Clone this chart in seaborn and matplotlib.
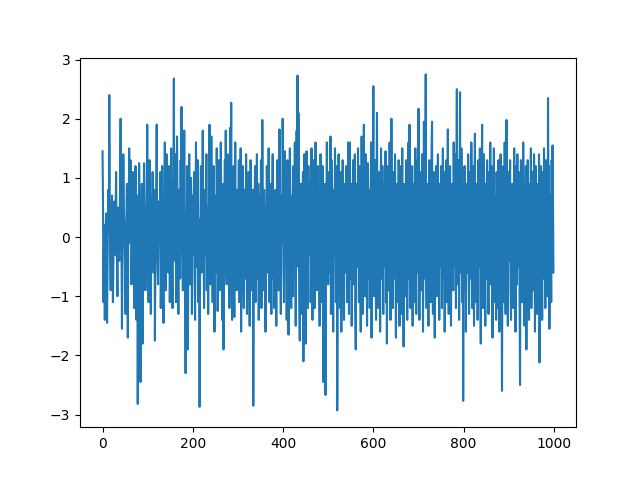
import numpy as np
import matplotlib
matplotlib.use("Agg")
import matplotlib.pyplot as plt
import seaborn as sns

# values, 20 samples per row (index 0..999)
values = [
    1.45, 0.6, -1.1, -0.3, 0.2, -1.4, -0.5, 0.1, 0.4, -0.2, -1.45, -0.6, 0.3, 0.8, 0.1, 2.4, 0.5, -0.3, -0.9, 0.2,
    0.3, 0.7, -0.1, -1.1, -0.4, 0.2, 0.6, 0.0, -0.3, 0.4, 1.1, 0.1, -0.5, -1.0, 0.1, 0.5, -0.2, -0.4, 0.2, 0.9,
    2.0, 0.3, -0.2, -1.55, -0.5, 0.1, 1.4, 0.6, -0.1, 0.2, -0.7, -1.3, 0.2, 0.4, 0.9, -0.3, -1.7, 0.0, 0.4, 1.5,
    0.2, -0.1, 1.3, 0.4, -0.8, -0.3, 0.1, 1.1, 0.6, -0.2, -1.2, 0.0, 0.3, 1.2, -0.5, -1.4, 0.2, 0.7, -2.82, -0.4,
    0.1, 1.25, 0.5, -0.2, -2.45, -0.7, 0.3, 0.9, 0.1, -1.8, -0.4, 0.2, 1.25, 0.6, -0.1, -0.9, -0.3, 0.1, 0.6, 1.9,
    0.4, -0.2, -1.1, 0.0, 1.3, 0.3, -0.6, -1.3, -0.1, 0.7, 0.2, 1.1, -0.3, -0.6, 0.0, 0.8, -1.75, -0.5, 0.1, 0.9,
    1.9, 0.2, -0.5, -0.8, 0.1, 0.6, 0.3, -0.1, 1.1, -1.2, -0.4, 0.5, 1.2, 0.1, -0.7, -1.45, 0.0, 0.6, 1.6, -0.2,
    -0.9, -0.3, 1.4, 0.5, -0.2, 0.1, -0.6, 1.2, 0.2, -1.1, -0.3, 0.7, 1.5, 0.2, -0.5, -1.2, 0.3, 0.8, 2.68, -0.1,
    -0.4, 1.4, 0.3, -1.1, 0.1, 1.7, 0.6, -0.4, -1.3, 0.3, 0.8, -0.1, -0.7, 1.3, 0.0, 2.2, 0.5, -0.3, -0.9, 0.4,
    0.1, 1.8, -0.2, -0.6, -2.3, 0.4, -0.4, 1.2, 0.3, -1.9, -0.5, 0.2, 1.4, 0.1, -0.8, -0.1, 1.0, 0.5, -1.3, 0.7,
    0.4, -0.3, 0.3, 1.1, -0.7, -1.4, 0.1, 1.6, 0.2, -0.5, 0.6, 1.3, -1.1, -0.2, 0.3, -2.87, -0.4, 0.5, 1.2, -0.6,
    -0.1, 0.6, 1.8, 0.2, -0.4, -1.2, 0.0, 0.8, 0.3, -0.3, 1.4, -0.9, -0.2, 0.5, -1.3, 0.1, 0.7, 1.9, -0.4, -0.8,
    0.1, 1.7, 0.3, -0.5, -1.1, 0.1, 1.2, -0.2, -1.6, 0.4, 0.7, 0.0, -0.6, 1.5, 0.3, -1.25, -0.1, 0.8, 1.3, -0.9,
    -0.3, 0.1, 1.6, 0.6, -0.4, -1.4, 0.3, 0.9, -1.9, -0.1, 0.5, 1.3, 0.1, 1.8, -0.5, -0.8, 0.4, 1.4, -0.2, -0.7,
    0.4, -1.2, 0.1, 1.85, 0.2, 2.27, -0.3, -1.4, 0.7, 0.2, 1.2, -0.6, -1.35, 0.4, 1.6, -0.1, 0.5, -0.9, 0.0, 0.8,
    -0.5, 0.3, 1.3, -1.1, -0.2, 0.7, 1.5, -1.6, -0.1, 0.6, 0.1, 1.2, -0.5, -1.2, 0.4, 0.8, -0.1, -0.7, 1.4, 0.4,
    -1.3, -0.3, 0.6, 1.1, 0.1, -0.6, -1.5, 0.3, 1.3, 0.5, -0.2, -0.9, 0.2, 0.8, -2.85, -0.5, 0.4, 0.7, 1.2, -1.1,
    -0.4, 0.3, 1.4, 0.1, -0.7, 0.9, -1.4, -0.1, 0.5, 0.7, -0.5, 1.3, -1.2, 0.2, 1.98, 0.4, -0.5, -0.9, 0.8, -0.2,
    0.5, -1.6, -0.2, 0.1, 1.2, 0.4, -0.6, -0.1, 1.5, 0.2, -1.1, 0.6, 0.9, -0.4, -1.3, 0.0, 0.6, 1.4, -0.7, -0.3,
    0.4, -1.2, 0.2, 0.8, -0.5, -1.5, 0.3, 1.3, 0.6, -0.2, -0.9, 0.1, 1.82, 0.8, -0.5, -1.3, 0.4, 0.7, -0.1, 2.0,
    1.2, -0.6, -1.1, 0.3, 1.45, 1.0, -0.4, 0.1, -1.4, -0.1, 1.3, 0.5, -1.65, -0.7, 0.1, 1.5, 0.8, -0.3, -1.2, 0.4,
    0.7, -0.2, -1.0, 1.2, 0.4, 0.0, 1.6, -0.5, -1.5, 0.2, 1.8, 0.6, 2.73, -0.5, 2.1, -0.2, -1.1, -1.75, 0.3, 0.9,
    0.7, -0.4, -1.3, 0.5, 1.1, -2.1, -0.1, 1.4, 0.6, -0.7, -1.8, 0.2, 1.45, 0.1, -0.5, -1.2, 1.2, 0.4, -0.3, 0.5,
    0.9, -1.1, -0.5, 1.5, 0.1, -1.4, 0.3, 1.3, 0.1, -0.6, -1.2, 0.7, 1.6, 0.4, -0.2, -0.9, 0.2, 1.2, -0.4, 0.8,
    -0.7, -1.5, 0.4, 1.4, 0.6, -0.1, -1.1, 0.2, 1.2, -2.45, -0.3, 0.5, 0.9, -1.3, -2.67, -0.5, 0.7, 1.6, 0.3, -0.1,
    -0.8, 0.1, 1.1, -0.6, 0.4, 1.7, -1.3, 0.0, 1.3, 0.4, -0.5, -1.6, 0.2, 0.8, -0.3, 1.5, 0.5, -1.1, -0.4, 1.2,
    -2.93, -0.7, 0.5, 1.4, 0.6, -0.2, -1.2, 0.1, 1.1, -1.6, -0.5, 0.3, 1.3, 0.7, -0.1, -1.4, 0.4, 0.9, 0.1, -0.6,
    1.2, 0.3, -1.1, -0.4, 1.6, 0.5, -1.3, 0.0, 1.6, -0.7, 0.2, 0.9, -1.5, -0.5, 0.6, 1.3, -0.8, -0.1, 0.4, 1.4,
    -1.2, -1.9, 0.5, 0.9, 0.1, -0.5, 1.5, 0.3, -1.1, 1.2, 0.7, -0.3, -1.6, 0.1, 1.7, 0.4, -0.6, -1.3, 0.9, 1.9,
    0.2, -0.4, -1.0, 1.4, 0.6, -0.1, -1.5, 0.5, 1.25, 0.1, -0.7, 0.8, -1.2, -0.2, 0.4, 1.6, -1.7, -0.3, 0.5, 1.1,
    2.55, 0.1, -1.0, 0.3, 1.3, -0.5, -1.4, 0.7, 2.1, 0.1, -0.6, -1.2, 1.1, 0.4, -0.1, -1.6, 0.5, 1.5, 0.0, -0.7,
    1.2, -0.3, -1.3, 0.5, 0.9, 0.2, -0.5, 1.45, -1.1, 0.3, -1.8, 0.6, 1.2, -0.1, -0.9, 0.4, 1.6, 0.7, -1.4, -0.4,
    2.0, 0.1, -0.5, -1.2, 0.5, 1.1, -0.7, 0.1, 1.4, -0.2, -1.7, 0.5, 0.9, 0.3, -1.1, -0.3, 1.3, 0.6, -1.5, 1.2,
    0.2, -0.6, -1.3, 0.4, 1.5, 0.0, -0.5, -1.85, 0.9, 0.7, 0.2, -1.0, -0.1, 1.3, 0.5, -1.4, -0.4, 1.0, 1.6, -0.7,
    1.9, 0.3, -1.2, 0.5, 0.1, -0.5, 1.2, -1.5, -0.2, 0.6, 0.9, -1.1, 0.3, 1.5, -0.5, -1.3, 0.1, 0.7, 1.3, -0.6,
    2.17, -0.1, -1.4, 0.4, 1.1, 0.2, -0.9, -0.4, 1.4, 0.5, -1.6, -0.1, 1.95, 0.0, -0.7, 1.2, 2.75, -0.3, -1.2, 0.5,
    0.9, -0.5, -1.5, 0.3, 1.3, 0.6, -0.2, -1.1, 0.1, 1.5, 1.95, -0.6, -1.3, 0.4, 1.1, -0.1, -1.7, 0.2, 0.5, 1.2,
    -0.5, -1.0, 0.5, 1.4, 0.1, -0.3, -1.4, 0.7, 0.9, -0.5, 1.2, 0.2, -1.2, -0.4, 1.5, 0.3, -0.7, 1.1, -1.6, 0.1,
    0.6, -0.2, 1.3, -1.1, 0.4, 1.82, -0.5, -1.3, 0.1, 0.7, 1.2, -0.6, -1.5, 0.3, 0.9, 0.5, -0.1, -0.9, 1.6, 0.0,
    -0.5, 1.4, 0.2, -1.2, 1.1, 2.5, -0.4, -0.8, 0.5, 1.3, -1.4, 0.1, 2.45, -0.6, -0.2, 1.5, 0.6, -1.1, 0.3, -2.77,
    -0.5, 0.7, 1.2, -0.9, 0.4, -1.6, -0.3, 0.9, 0.1, -0.6, 1.4, 0.4, -1.3, -0.1, 1.1, 0.2, -0.7, 1.6, 0.5, -1.2,
    -0.4, 1.2, 0.3, -1.5, 0.7, 1.75, -0.5, -1.1, 0.1, 0.9, 0.4, -1.4, -0.2, 1.3, 0.1, -0.5, 1.5, -0.8, -1.8, 0.4,
    1.0, 1.9, -0.6, -1.2, 0.2, 1.4, 0.5, -0.3, -1.5, 0.9, 0.1, -0.7, 1.3, 0.4, -0.1, -1.3, 1.1, 0.3, -0.5, 1.6,
    -0.8, 0.4, 1.2, -0.2, -1.7, 0.6, 0.0, 1.5, -1.1, -0.4, 0.7, 0.2, -1.4, 1.1, 0.3, -0.5, -1.2, 1.3, 0.4, -1.6,
    -0.1, 0.9, 1.4, -0.3, -0.7, -2.6, 0.1, 0.5, 1.2, -1.1, 0.1, 1.6, -0.5, -1.3, 0.4, 1.98, -0.1, -0.6, -1.5, 1.1,
    0.2, -0.4, 0.6, 1.3, -0.9, -1.4, 0.0, 0.5, 0.9, -0.5, -1.2, 0.3, 1.5, 0.7, -0.2, -1.6, 1.2, 0.4, -0.8, 1.4,
    -0.1, -0.5, 1.1, 0.2, -1.3, -2.5, 0.5, 1.3, -0.3, 0.7, -1.1, 0.1, 1.6, 0.4, -0.6, -1.5, 0.9, 0.1, 1.2, -1.9,
    -0.4, 0.5, 1.3, 0.1, -0.7, -1.4, 0.9, 0.6, -0.2, 1.5, -1.2, -0.5, 0.3, 1.1, -0.9, 0.2, 1.4, 0.4, -1.6, -0.5,
    1.2, -0.1, 0.5, -1.3, 0.9, 0.1, -0.6, 1.4, -2.12, -1.1, 0.7, 1.2, -0.4, 0.2, -1.4, 1.1, 0.0, -0.7, 1.5, 0.5,
    -0.3, -1.2, 1.3, 0.1, -0.6, 0.9, -1.0, 2.35, 0.4, 1.2, -1.55, -0.5, 0.7, 0.3, -1.1, 1.3, -0.2, 1.55, 0.6, -0.6,
]
steps = np.arange(len(values))

fig, ax = plt.subplots(figsize=(6.4, 4.8), dpi=100)
sns.lineplot(x=steps, y=values, color="#1f77b4", linewidth=1.5, ax=ax)

ax.set_xticks([0, 200, 400, 600, 800, 1000])
ax.set_yticks([-3, -2, -1, 0, 1, 2, 3])

fig.savefig("out.png", dpi=100)
